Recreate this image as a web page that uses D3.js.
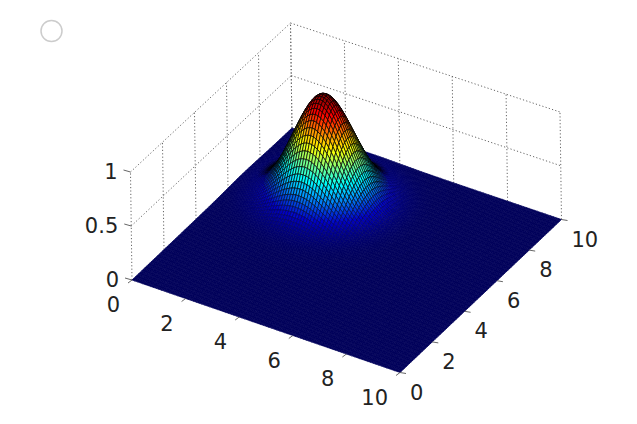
<!DOCTYPE html>
<html><head><meta charset="utf-8">
<script src="https://cdn.jsdelivr.net/npm/d3@7"></script>
<style>html,body{margin:0;padding:0;background:#fff}svg{display:block}text{font-family:"DejaVu Sans";font-size:21px;fill:#222}</style>
</head><body><svg id="c" width="637" height="424"></svg>
<script>
// The surface is built as the product of this section along x and along y.
const crossSection = [1,.995,.98,.956,.923,.882,.835,.783,.726,.667,.607,.546,.487,.43,.375,.325,.278,.236,.198,.164,.135,.11,.089,.071,.056,.044,.034,.026,.02,.015,.011,.008,.006,.004,.003,.002,.002,.001,.001,.001];
const peakX = 3, peakY = 7, meshStep = 0.1;
const xTicks = [0,2,4,6,8,10], yTicks = [0,2,4,6,8,10], zTicks = [0,.5,1];
const zTickLabels = ["0","0.5","1"];
const jetStops = [0,.125,.375,.625,.875,1];
const jetColors = ["#00008f","#0000ff","#00ffff","#ffff00","#ff0000","#800000"];

const svg = d3.select("#c");
const defs = svg.append("defs");
defs.append("filter").attr("id","soft").attr("filterUnits","userSpaceOnUse").attr("x",100).attr("y",60).attr("width",500).attr("height",340)
  .append("feGaussianBlur").attr("stdDeviation",.5);
const fx = d3.scaleLinear().domain([0,10]).range([0,1]);
const fy = d3.scaleLinear().domain([0,10]).range([0,1]);
const jet = d3.scaleLinear().domain(jetStops).range(jetColors);
const meshFade = d3.scaleLinear().domain([.02,.28]).range([0,1]).clamp(true);
const squeezeFade = d3.scaleLinear().domain([.3,.7]).range([1,0]).clamp(true);
// axes box: base corners (x,y) = 00, 10, 11, 01 and pixel height of z=1 at each
const C = {a:[132,280,108],b:[400,372.5,110],c:[561.5,219.5,107.5],d:[292,128,105]};
const lean = -1.5;
function P(x,y,z){
  const u=fx(x), v=fy(y);
  const m=k=>(1-u)*(1-v)*C.a[k]+u*(1-v)*C.b[k]+u*v*C.c[k]+(1-u)*v*C.d[k];
  return [m(0)+lean*z, m(1)-m(2)*z];
}
const line = d3.line();
const wall = svg.append("g").attr("fill","none").attr("stroke","#666").attr("stroke-width",1).attr("stroke-dasharray","1.2 2.2");
const seg = (g,a,b)=>g.append("path").attr("d",line([a,b]));
zTicks.slice(1).forEach(z=>{ seg(wall,P(0,0,z),P(0,10,z)); seg(wall,P(0,10,z),P(10,10,z)); });
yTicks.forEach(y=>seg(wall,P(0,y,0),P(0,y,1)));
xTicks.forEach(x=>seg(wall,P(x,10,0),P(x,10,1)));

// surface
const nodes = d3.range(0,Math.round(10/meshStep)+1).map(i=>i*meshStep);
const sect = v=>{ const k=Math.round(Math.abs(v)/meshStep); return k<crossSection.length?crossSection[k]:0; };
const Z = (x,y)=>sect(x-peakX)*sect(y-peakY);
const cells=[];
for(let i=0;i<nodes.length-1;i++) for(let j=nodes.length-2;j>=0;j--){
  const x0=nodes[i],x1=nodes[i+1],y0=nodes[j],y1=nodes[j+1];
  const pts=[P(x0,y0,Z(x0,y0)),P(x1,y0,Z(x1,y0)),P(x1,y1,Z(x1,y1)),P(x0,y1,Z(x0,y1))];
  const flat=[P(x0,y0,0),P(x1,y0,0),P(x1,y1,0),P(x0,y1,0)];
  const ratio=d3.polygonArea(pts)/d3.polygonArea(flat);
  const z=Z(x0,y0), t=Math.max(meshFade(z),squeezeFade(ratio));
  const dim=d3.interpolateRgb(jet(z),"#000")(.37);
  cells.push({pts,fill:d3.interpolateRgb(dim,jet(z))(t),stroke:d3.interpolateRgb(dim,"#000")(t)});
}
svg.append("g").attr("filter","url(#soft)").attr("stroke-width",.7).attr("stroke-linejoin","round")
  .selectAll("path").data(cells).join("path")
  .attr("d",d=>line(d.pts)+"Z")
  .attr("fill",d=>d.fill)
  .attr("stroke",d=>d.stroke);

// ticks and labels
const tg = svg.append("g").attr("fill","none").attr("stroke","#555").attr("stroke-width",.9);
const off=(p,dx,dy)=>[p[0]+dx,p[1]+dy];
zTicks.forEach(z=>seg(tg,P(0,0,z),off(P(0,0,z),-7,-2)));
xTicks.forEach(x=>seg(tg,P(x,0,0),off(P(x,0,0),-4,3)));
yTicks.forEach(y=>seg(tg,P(10,y,0),off(P(10,y,0),6,1)));
const label=(p,t,a)=>svg.append("text").attr("x",p[0]).attr("y",p[1]).attr("text-anchor",a).attr("dominant-baseline","central").text(t);
xTicks.forEach(x=>label(off(P(x,0,0),-12,25),x,"end"));
yTicks.forEach(y=>label(off(P(10,y,0),10,20),y,"start"));
zTicks.forEach((z,i)=>label(off(P(0,0,z),-13,0),zTickLabels[i],"end"));
svg.append("circle").attr("cx",51.5).attr("cy",31).attr("r",10.5).attr("fill","#fff").attr("stroke","#ccc").attr("stroke-width",1.5);
</script></body></html>
